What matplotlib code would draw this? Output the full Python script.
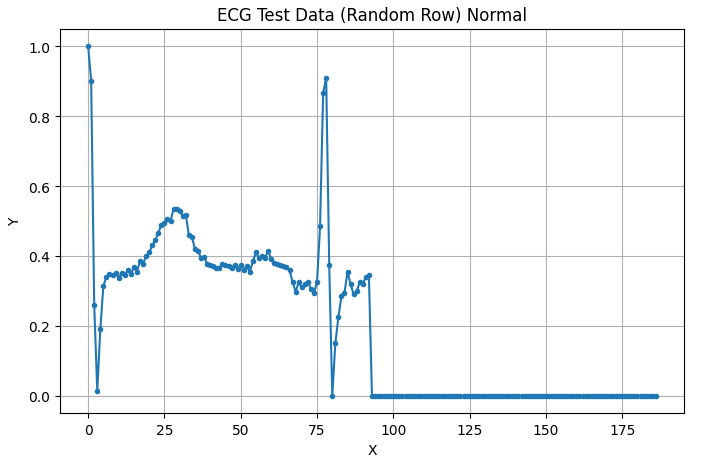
import matplotlib
matplotlib.use("Agg")
import matplotlib.pyplot as plt

signal_values = [
    1.0, 0.90, 0.26, 0.015, 0.19, 0.315, 0.34, 0.348, 0.345, 0.352,
    0.338, 0.352, 0.345, 0.36, 0.348, 0.368, 0.355, 0.385, 0.378, 0.40,
    0.41, 0.43, 0.445, 0.465, 0.49, 0.495, 0.505, 0.50, 0.535,
    0.535, 0.53, 0.515, 0.518, 0.46, 0.455, 0.42, 0.415, 0.395, 0.397,
    0.378, 0.375, 0.37, 0.366, 0.367, 0.376, 0.374, 0.372, 0.365, 0.374,
    0.362, 0.375, 0.36, 0.372, 0.355, 0.385, 0.41, 0.395, 0.40, 0.395,
    0.415, 0.39, 0.38, 0.378, 0.375, 0.372, 0.368, 0.36, 0.325, 0.298,
    0.325, 0.31, 0.32, 0.327, 0.305, 0.295, 0.325, 0.485, 0.865, 0.91,
    0.375, 0.0, 0.15, 0.225, 0.285, 0.295, 0.355, 0.32, 0.29, 0.30,
    0.325, 0.32, 0.34, 0.345,
]
zero_padding = [0.0] * (187 - len(signal_values))
y_values = signal_values + zero_padding
x_values = list(range(len(y_values)))

title = "ECG Test Data (Random Row) Normal"

fig, ax = plt.subplots(figsize=(7.24, 4.64), dpi=100)
fig.subplots_adjust(left=0.0825, right=0.945, bottom=0.1067, top=0.9364)
ax.plot(x_values, y_values, marker='o', markersize=3, color='#1f77b4', linewidth=1.5)
ax.set_title(title)
ax.set_xlabel("X")
ax.set_ylabel("Y")
ax.grid(True)
fig.savefig("out.png", dpi=100)
